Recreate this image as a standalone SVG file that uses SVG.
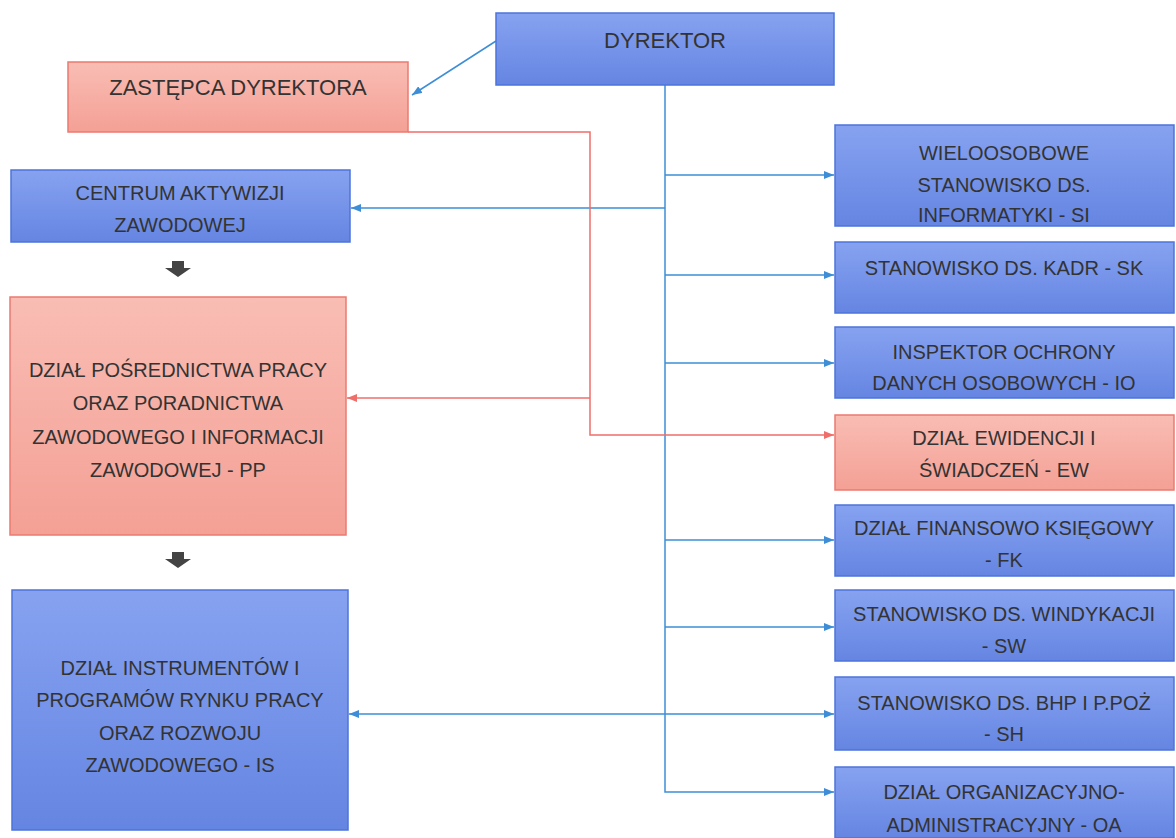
<svg xmlns="http://www.w3.org/2000/svg" width="1176" height="838" viewBox="0 0 1176 838">
<defs>
<linearGradient id="gb" x1="0" y1="0" x2="0" y2="1">
<stop offset="0" stop-color="#86a2f0"/>
<stop offset="1" stop-color="#6585e2"/>
</linearGradient>
<linearGradient id="gp" x1="0" y1="0" x2="0" y2="1">
<stop offset="0" stop-color="#f9bdb4"/>
<stop offset="1" stop-color="#f4a095"/>
</linearGradient>
<marker id="ab" viewBox="0 0 10 8" refX="10" refY="4" markerWidth="10" markerHeight="8" markerUnits="userSpaceOnUse" orient="auto">
<path d="M0 0 L10 4 L0 8 Z" fill="#3d8ed6"/>
</marker>
<marker id="ar" viewBox="0 0 10 8" refX="10" refY="4" markerWidth="10" markerHeight="8" markerUnits="userSpaceOnUse" orient="auto">
<path d="M0 0 L10 4 L0 8 Z" fill="#f06e6a"/>
</marker>
</defs>
<style>
.b{fill:url(#gb);stroke:#4d74dc;stroke-width:1.5}
.p{fill:url(#gp);stroke:#ec7a70;stroke-width:1.5}
text{font-family:"Liberation Sans",Arial,sans-serif;font-size:20px;fill:#333;text-anchor:middle}
.big{font-size:22px}
.cb{fill:none;stroke:#3d8ed6;stroke-width:1.5}
.cr{fill:none;stroke:#f06e6a;stroke-width:1.5}
.blk{fill:#444}
</style>
<rect width="1176" height="838" fill="#ffffff"/>

<g id="connectors">
<path class="cb" d="M496 41 L412 95" marker-end="url(#ab)"/>
<path class="cb" d="M665 85 V792 H834" marker-end="url(#ab)"/>
<path class="cb" d="M665 175 H834" marker-end="url(#ab)"/>
<path class="cb" d="M665 275 H834" marker-end="url(#ab)"/>
<path class="cb" d="M665 363 H834" marker-end="url(#ab)"/>
<path class="cb" d="M665 540 H834" marker-end="url(#ab)"/>
<path class="cb" d="M665 627 H834" marker-end="url(#ab)"/>
<path class="cb" d="M665 714 H834" marker-end="url(#ab)"/>
<path class="cb" d="M665 208 H351" marker-end="url(#ab)"/>
<path class="cb" d="M665 714 H349" marker-end="url(#ab)"/>
<path class="cr" d="M408 132 H590 V435 H834" marker-end="url(#ar)"/>
<path class="cr" d="M590 398 H347" marker-end="url(#ar)"/>
<path class="blk" d="M172 261 H184 V268 H191 L178 277 L165 268 H172 Z"/>
<path class="blk" d="M172 552 H184 V559 H191 L178 568 L165 559 H172 Z"/>
</g>

<g id="dyrektor">
<rect class="b" x="496" y="13" width="338" height="72"/>
<text class="big" x="665" y="48">DYREKTOR</text>
</g>
<g id="zastepca">
<rect class="p" x="68" y="62" width="340" height="70"/>
<text class="big" x="238" y="95">ZASTĘPCA DYREKTORA</text>
</g>
<g id="caz">
<rect class="b" x="11" y="170" width="339" height="72"/>
<text x="180" y="200">CENTRUM AKTYWIZJI</text>
<text x="180" y="232">ZAWODOWEJ</text>
</g>
<g id="pp">
<rect class="p" x="10" y="297" width="336" height="238"/>
<text x="178" y="377">DZIAŁ POŚREDNICTWA PRACY</text>
<text x="178" y="410">ORAZ PORADNICTWA</text>
<text x="178" y="444">ZAWODOWEGO I INFORMACJI</text>
<text x="178" y="477">ZAWODOWEJ - PP</text>
</g>
<g id="is">
<rect class="b" x="12" y="590" width="336" height="240"/>
<text x="180" y="675">DZIAŁ INSTRUMENTÓW I</text>
<text x="180" y="707">PROGRAMÓW RYNKU PRACY</text>
<text x="180" y="740">ORAZ ROZWOJU</text>
<text x="180" y="772">ZAWODOWEGO - IS</text>
</g>
<g id="si">
<rect class="b" x="835" y="125" width="339" height="101"/>
<text x="1004" y="160">WIELOOSOBOWE</text>
<text x="1004" y="192">STANOWISKO DS.</text>
<text x="1004" y="222">INFORMATYKI - SI</text>
</g>
<g id="sk">
<rect class="b" x="835" y="242" width="339" height="71"/>
<text x="1004" y="275">STANOWISKO DS. KADR - SK</text>
</g>
<g id="io">
<rect class="b" x="835" y="327" width="339" height="71"/>
<text x="1004" y="359">INSPEKTOR OCHRONY</text>
<text x="1004" y="390">DANYCH OSOBOWYCH - IO</text>
</g>
<g id="ew">
<rect class="p" x="835" y="415" width="339" height="75"/>
<text x="1004" y="445">DZIAŁ EWIDENCJI I</text>
<text x="1004" y="477">ŚWIADCZEŃ - EW</text>
</g>
<g id="fk">
<rect class="b" x="835" y="505" width="339" height="71"/>
<text x="1004" y="535">DZIAŁ FINANSOWO KSIĘGOWY</text>
<text x="1004" y="567">- FK</text>
</g>
<g id="sw">
<rect class="b" x="835" y="590" width="339" height="71"/>
<text x="1004" y="621">STANOWISKO DS. WINDYKACJI</text>
<text x="1004" y="653">- SW</text>
</g>
<g id="sh">
<rect class="b" x="835" y="677" width="339" height="73"/>
<text x="1004" y="710">STANOWISKO DS. BHP I P.POŻ</text>
<text x="1004" y="741">- SH</text>
</g>
<g id="oa">
<rect class="b" x="835" y="767" width="339" height="71"/>
<text x="1004" y="799">DZIAŁ ORGANIZACYJNO-</text>
<text x="1004" y="832">ADMINISTRACYJNY - OA</text>
</g>
</svg>
